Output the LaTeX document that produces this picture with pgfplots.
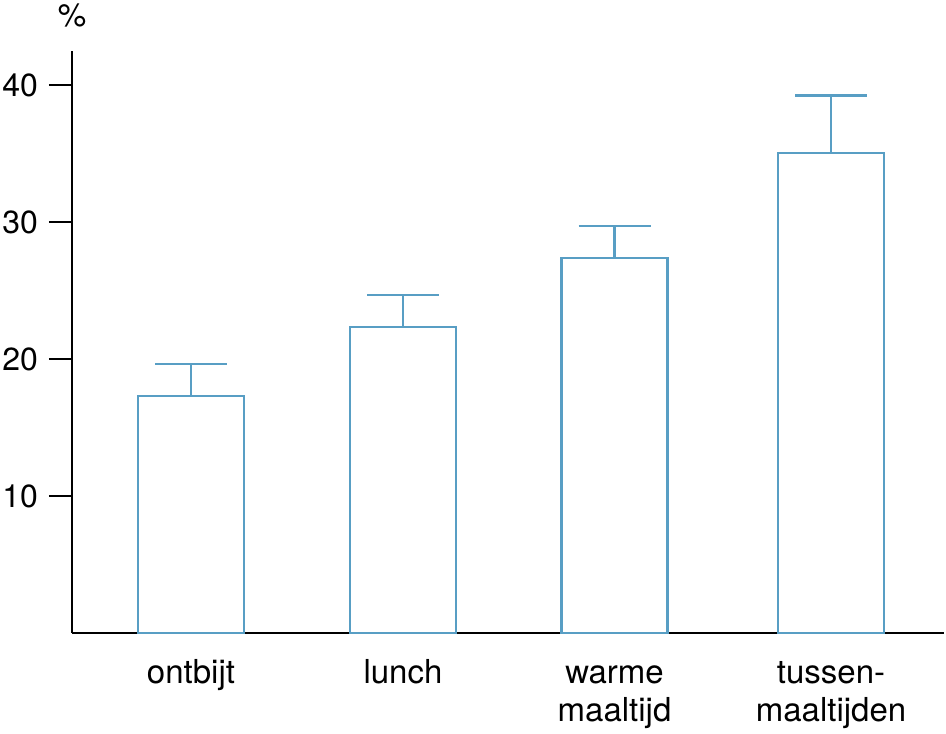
\documentclass[border=0pt]{standalone}
\usepackage{pgfplots}
\pgfplotsset{compat=1.18}
\usepackage{fontspec}
\setmainfont{TeX Gyre Heros}
\definecolor{barblue}{RGB}{88,158,196}
\begin{document}
\fontsize{16}{19}\selectfont
\begin{tikzpicture}
\begin{axis}[
  at={(0,0)}, anchor=south west,
  scale only axis,
  width=436pt, height=291pt,
  xmin=0.72, xmax=9.44,
  ymin=0, ymax=42.5,
  axis lines*=left,
  axis line style={line width=1.2pt, black},
  every tick/.style={line width=1.2pt, black},
  tick align=outside,
  major tick length=11.5pt,
  ytick={10,20,30,40},
  xtick={1.91,4.03,6.145,8.31},
  xticklabels={ontbijt, lunch, {\begin{tabular}[t]{@{}c@{}}warme\\maaltijd\end{tabular}}, {\begin{tabular}[t]{@{}c@{}}tussen-\\maaltijden\end{tabular}}},
  xtick style={draw=none},
  xticklabel style={font=\fontsize{16.5}{19}\selectfont, anchor=base, yshift=-13.5pt},
  yticklabel style={font=\fontsize{16}{19}\selectfont},
  /pgf/number format/assume math mode=true,
  clip=false,
]
\addplot[
  ybar, bar width=1.06, draw=barblue, fill=white, line width=1.3pt,
  error bars/.cd, y dir=plus, y explicit, error mark=|,
  error bar style={line width=1.3pt, barblue},
  error mark options={line width=1.3pt, barblue, mark size=18pt},
] table[x=x, y=y, y error=e] {
x y e
1.91 17.30 2.33
4.03 22.34 2.33
6.145 27.37 2.34
8.31 35.04 4.23
};
\node[anchor=base, font=\fontsize{16}{19}\selectfont] at (rel axis cs:0,1) [yshift=12pt] {\%};
\end{axis}
\pgfresetboundingbox
\path[use as bounding box] (-36pt,-50pt) rectangle (437pt,316.5pt);
\end{tikzpicture}
\end{document}
